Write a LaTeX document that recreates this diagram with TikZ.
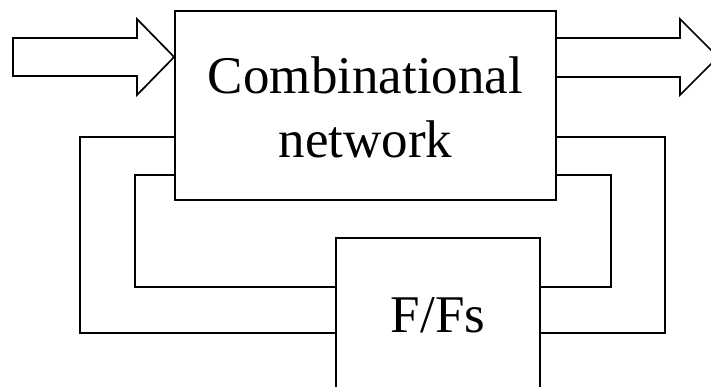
\documentclass[tikz,border=0pt]{standalone}
\usepackage{fontspec}
\setmainfont{Liberation Serif}
\begin{document}
\begin{tikzpicture}[x=1pt,y=-1pt,
  wire/.style={draw=black,line width=1.7pt},
  block/.style={draw=black,line width=1.7pt,fill=white,inner sep=0pt},
  lbl/.style={inner sep=0pt,font=\fontsize{53}{64}\selectfont}]
\useasboundingbox (0,0) rectangle (711,386);
\clip (0,0) rectangle (711,386);
\fill[white] (0,0) rectangle (711,386);

% main blocks
\node[block,minimum width=381pt,minimum height=189pt] (comb) at (365.5,105.5) {};
\node[block,minimum width=204pt,minimum height=200pt,anchor=north] (ff) at (438,237) {};

% labels
\node[lbl,anchor=base] (combt1) at (365.5,93) {Combinational};
\node[lbl,anchor=base] (combt2) at (365.5,157) {network};
\node[lbl,anchor=base] (fft) at (438,332) {F/Fs};

% input and output bus arrows
\draw[wire] (comb.west |- 0,57) -- (137,19) -- (137,38) -- (13,38) -- (13,76)
  -- (137,76) -- (137,95) -- cycle;
\draw[wire] (comb.east |- 0,38) -- (680,38) -- (680,19) -- (718,57) -- (680,95)
  -- (680,77) -- (comb.east |- 0,77);

% feedback loops through the flip-flops
\draw[wire] (comb.west |- 0,137) -- (80,137) |- (ff.west |- 0,333);
\draw[wire] (comb.west |- 0,175) -- (135,175) |- (ff.west |- 0,287);
\draw[wire] (comb.east |- 0,137) -- (665,137) |- (ff.east |- 0,333);
\draw[wire] (comb.east |- 0,175) -- (611,175) |- (ff.east |- 0,287);
\end{tikzpicture}
\end{document}
